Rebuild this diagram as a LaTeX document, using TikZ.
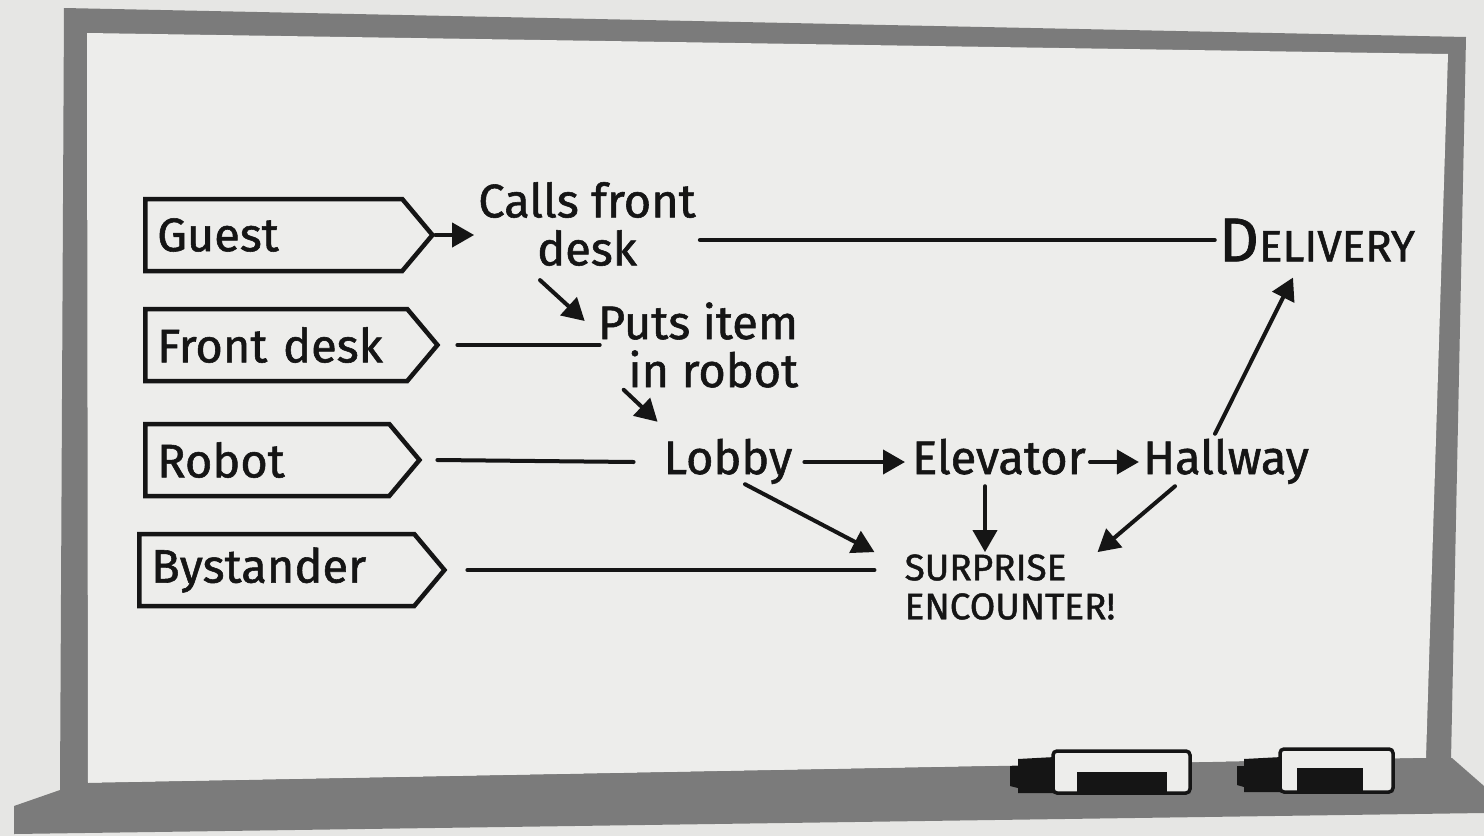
\documentclass[tikz,border=0pt]{standalone}
\usepackage{fontspec}
\setmainfont{Fira Sans}[BoldFont={Fira Sans},BoldFeatures={FakeBold=1.2}]
\usetikzlibrary{shapes.symbols,arrows.meta}
\definecolor{paper}{HTML}{E6E6E4}
\definecolor{board}{HTML}{EDEDEB}
\definecolor{rim}{HTML}{7B7B7B}
\definecolor{ink}{HTML}{151515}
\begin{document}
\begin{tikzpicture}[x=1pt,y=-1pt,
				role/.style={draw=ink,line width=4.5pt,signal,signal to=east,signal pointer angle=100,
					minimum height=72pt,inner xsep=12pt,inner ysep=0pt,align=left,text=ink,
					font=\fontsize{47}{47}\selectfont\bfseries},
				note/.style={text=ink,inner sep=4pt,font=\fontsize{47}{48}\selectfont\bfseries},
				place/.style={note,text height=36pt,text depth=12pt},
				caps/.style={text=ink,inner sep=4pt,align=left,font=\fontsize{37}{39}\selectfont\bfseries},
				link/.style={draw=ink,line width=4pt,line cap=round},
				flow/.style={link,-{Triangle[length=22pt,width=24pt]}}]
\useasboundingbox (0,0) rectangle (1484,836);
\fill[paper] (0,0) rectangle (1484,836);
% board and tray
\fill[rim] (64,8) -- (1466,37) -- (1451,760) -- (60,790) -- cycle;
\fill[board] (87,33) -- (1448,54) -- (1426,758) -- (88,783) -- cycle;
\fill[rim] (14,834) -- (14,806) -- (60,790) -- (88,783) -- (1426,758) -- (1452,758)
	-- (1484,786) -- (1484,813) -- cycle;
% markers
\fill[ink] (1010,766) -- (1018,766) -- (1018,759) -- (1055,757) -- (1055,793) -- (1018,793)
	-- (1018,788) -- (1010,786) -- cycle;
\draw[ink,line width=3.5pt,fill=board,rounded corners=4pt] (1053,751) rectangle (1190,793);
\fill[ink] (1077,772) rectangle (1167,793);
\fill[ink] (1237,766) -- (1244,766) -- (1244,759) -- (1282,757) -- (1282,792) -- (1244,792)
	-- (1244,787) -- (1237,785) -- cycle;
\draw[ink,line width=3.5pt,fill=board,rounded corners=4pt] (1280,749) rectangle (1393,792);
\fill[ink] (1297,768) rectangle (1363,792);
% roles
\node[role,text width=233pt,anchor=west] (guest) at (143,235) {Guest};
\node[role,text width=238pt,anchor=west] (front) at (143,345) {Front desk};
\node[role,text width=220pt,anchor=west] (robot) at (143,460) {Robot};
\node[role,text width=251pt,anchor=west] (bystander) at (137,570) {Bystander};
% steps
\node[note,align=center] (calls) at (587,224) {Calls front\\desk};
\node[note,align=right] (puts) at (698,345) {Puts item\\in robot};
\node[place] (lobby) at (728,462) {Lobby};
\node[place] (elevator) at (999,462) {Elevator};
\node[place] (hallway) at (1226,462) {Hallway};
\node[text=ink,inner sep=4pt,font=\fontsize{44}{44}\selectfont\bfseries] (delivery) at (1317,240)
	{{\fontsize{62}{62}\selectfont D}ELIVERY};
\node[caps] (surprise) at (1010,587) {SURPRISE\\ENCOUNTER!};
% connectors
\draw[flow] (guest.east) -- (guest.east -| calls.west);
\draw[link] (delivery.west) -- (delivery.west -| calls.east);
\draw[flow] ([xshift=-47pt,yshift=-10pt]calls.south) -- ([xshift=-9pt,yshift=24pt]puts.west);
\draw[link] ([xshift=17pt]front.east) -- ([xshift=6pt]front.east -| puts.west);
\draw[flow] ([xshift=30pt,yshift=2pt]puts.south west) -- ([xshift=-2pt,yshift=12pt]lobby.north west);
\draw[link] ([xshift=15pt]robot.east) -- ([xshift=-26pt]lobby.west);
\draw[flow,shorten <=8pt,shorten >=3pt] (lobby) -- (elevator);
\draw[flow] (elevator) -- (hallway);
\draw[flow] ([xshift=-11pt]hallway.north) -- ([xshift=-24pt,yshift=-12pt]delivery.south);
\draw[flow] ([xshift=17pt,yshift=6pt]lobby.south) -- ([xshift=-26pt,yshift=-2pt]surprise.north west);
\draw[flow] ([xshift=-14pt,yshift=4pt]elevator.south) -- ([xshift=-14pt,yshift=-2pt]elevator.south |- surprise.north);
\draw[flow] ([xshift=-51pt,yshift=4pt]hallway.south) -- ([xshift=-22pt,yshift=-2pt]surprise.north east);
\draw[link] ([xshift=20pt]bystander.east) -- ([xshift=-26pt]surprise.west |- bystander.east);
\end{tikzpicture}
\end{document}
